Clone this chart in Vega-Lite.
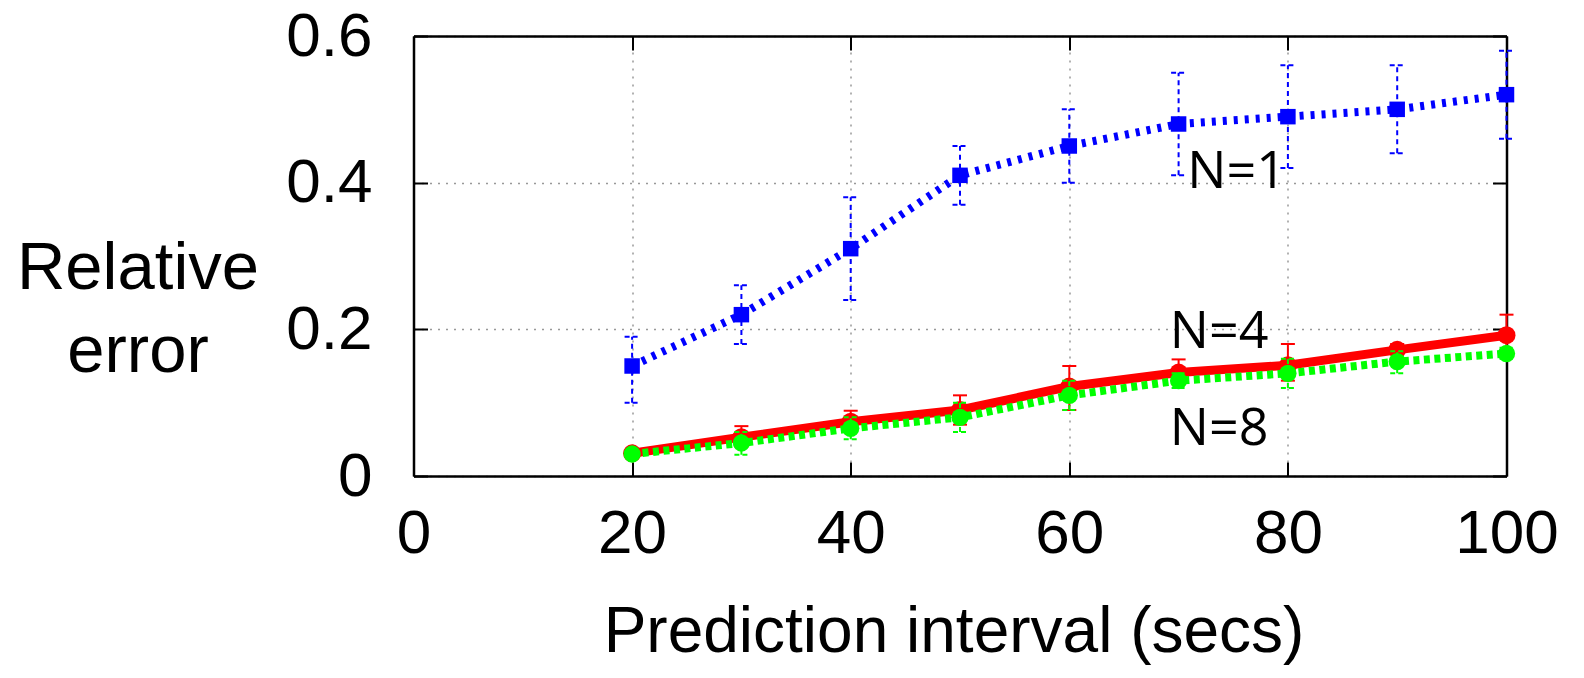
{
  "$schema": "https://vega.github.io/schema/vega-lite/v6.json",
  "width": 1093,
  "height": 440,
  "autosize": {"type": "none"},
  "padding": {"left": 413.5, "top": 36, "right": 77.5, "bottom": 202},
  "background": "white",
  "config": {"view": {"stroke": null}},
  "datasets": {
    "series": [
      {"series": "N=1", "x": 20, "y": 0.15, "lo": 0.10, "hi": 0.19},
      {"series": "N=1", "x": 30, "y": 0.22, "lo": 0.18, "hi": 0.26},
      {"series": "N=1", "x": 40, "y": 0.31, "lo": 0.24, "hi": 0.38},
      {"series": "N=1", "x": 50, "y": 0.41, "lo": 0.37, "hi": 0.45},
      {"series": "N=1", "x": 60, "y": 0.45, "lo": 0.40, "hi": 0.50},
      {"series": "N=1", "x": 70, "y": 0.48, "lo": 0.41, "hi": 0.55},
      {"series": "N=1", "x": 80, "y": 0.49, "lo": 0.42, "hi": 0.56},
      {"series": "N=1", "x": 90, "y": 0.50, "lo": 0.44, "hi": 0.56},
      {"series": "N=1", "x": 100, "y": 0.52, "lo": 0.46, "hi": 0.58},
      {"series": "N=4", "x": 20, "y": 0.031, "lo": 0.025, "hi": 0.037},
      {"series": "N=4", "x": 30, "y": 0.053, "lo": 0.04, "hi": 0.068},
      {"series": "N=4", "x": 40, "y": 0.074, "lo": 0.06, "hi": 0.089},
      {"series": "N=4", "x": 50, "y": 0.09, "lo": 0.07, "hi": 0.11},
      {"series": "N=4", "x": 60, "y": 0.122, "lo": 0.09, "hi": 0.15},
      {"series": "N=4", "x": 70, "y": 0.141, "lo": 0.125, "hi": 0.159},
      {"series": "N=4", "x": 80, "y": 0.151, "lo": 0.13, "hi": 0.18},
      {"series": "N=4", "x": 90, "y": 0.172, "lo": 0.16, "hi": 0.18},
      {"series": "N=4", "x": 100, "y": 0.192, "lo": 0.17, "hi": 0.22},
      {"series": "N=8", "x": 20, "y": 0.03, "lo": 0.025, "hi": 0.035},
      {"series": "N=8", "x": 30, "y": 0.045, "lo": 0.029, "hi": 0.06},
      {"series": "N=8", "x": 40, "y": 0.065, "lo": 0.05, "hi": 0.08},
      {"series": "N=8", "x": 50, "y": 0.08, "lo": 0.06, "hi": 0.10},
      {"series": "N=8", "x": 60, "y": 0.11, "lo": 0.09, "hi": 0.13},
      {"series": "N=8", "x": 70, "y": 0.13, "lo": 0.12, "hi": 0.14},
      {"series": "N=8", "x": 80, "y": 0.14, "lo": 0.12, "hi": 0.16},
      {"series": "N=8", "x": 90, "y": 0.156, "lo": 0.14, "hi": 0.17},
      {"series": "N=8", "x": 100, "y": 0.167, "lo": 0.16, "hi": 0.175}
    ],
    "notes": [
      {"label": "N=1", "x": 70.8, "y": 0.393},
      {"label": "N=4", "x": 69.2, "y": 0.174},
      {"label": "N=8", "x": 69.2, "y": 0.0423}
    ]
  },
  "data": {"name": "series"},
  "layer": [
    {
      "transform": [{"filter": "datum.series === 'N=1'"}],
      "mark": {"type": "rule", "color": "#0000ff", "strokeWidth": 2, "strokeDash": [5, 4]},
      "encoding": {
        "x": {"field": "x", "type": "quantitative", "scale": {"domain": [0, 100], "nice": false},
          "axis": {"orient": "bottom", "values": [0, 20, 40, 60, 80, 100], "grid": true, "gridDash": [2, 6], "gridColor": "#999999", "gridWidth": 1.5,
            "tickSize": -14, "tickWidth": 2, "tickColor": "black", "domainColor": "black", "domainWidth": 2.5,
            "labelFont": "Liberation Sans", "labelFontSize": 62, "labelColor": "black", "labelPadding": 41.4, "labelDx": 10,
            "labelFlush": false, "labelOverlap": false, "labelBound": false,
            "title": "Prediction interval (secs)", "titleFont": "Liberation Sans", "titleFontSize": 64, "titleFontWeight": "normal", "titleColor": "black", "titlePadding": 36, "titleX": 540, "titleAlign": "center"}},
        "y": {"field": "lo", "type": "quantitative", "scale": {"domain": [0, 0.6], "nice": false},
          "axis": {"orient": "left", "values": [0, 0.2, 0.4, 0.6], "format": "~g", "grid": true, "gridDash": [2, 6], "gridColor": "#999999", "gridWidth": 1.5,
            "tickSize": -14, "tickWidth": 2, "tickColor": "black", "domainColor": "black", "domainWidth": 2.5,
            "labelFont": "Liberation Sans", "labelFontSize": 62, "labelColor": "black", "labelPadding": 55.5, "labelDy": 3,
            "labelFlush": false, "labelOverlap": false, "labelBound": false,
            "title": ["Relative", "error"], "titleFont": "Liberation Sans", "titleFontSize": 67, "titleFontWeight": "normal", "titleColor": "black",
            "titleAngle": 0, "titleAlign": "center", "titleBaseline": "middle", "titleLineHeight": 83, "titleX": -276, "titleY": 232}},
        "y2": {"field": "hi"}
      }
    },
    {
      "transform": [{"filter": "datum.series === 'N=1'"}, {"fold": ["lo", "hi"], "as": ["k", "v"]}],
      "mark": {"type": "point", "shape": "M-1,0L1,0", "size": 225, "filled": false, "stroke": "#0000ff", "strokeWidth": 2, "strokeDash": [5, 3], "opacity": 1},
      "encoding": {
        "x": {"field": "x", "type": "quantitative",
          "axis": {"orient": "top", "values": [0, 20, 40, 60, 80, 100], "labels": false, "grid": false, "title": null,
            "tickSize": -14, "tickWidth": 2, "tickColor": "black", "domainColor": "black", "domainWidth": 2.5}},
        "y": {"field": "v", "type": "quantitative",
          "axis": {"orient": "right", "values": [0, 0.2, 0.4, 0.6], "labels": false, "grid": false, "title": null,
            "tickSize": -14, "tickWidth": 2, "tickColor": "black", "domainColor": "black", "domainWidth": 2.5}}
      }
    },
    {
      "transform": [{"filter": "datum.series === 'N=1'"}],
      "mark": {"type": "line", "color": "#0000ff", "strokeWidth": 8, "strokeDash": [4, 7], "strokeCap": "butt"},
      "encoding": {
        "x": {"field": "x", "type": "quantitative", "axis": null},
        "y": {"field": "y", "type": "quantitative", "axis": null}
      }
    },
    {
      "transform": [{"filter": "datum.series === 'N=1'"}],
      "mark": {"type": "point", "shape": "square", "filled": true, "size": 240, "color": "#0000ff", "opacity": 1},
      "encoding": {
        "x": {"field": "x", "type": "quantitative", "axis": null},
        "y": {"field": "y", "type": "quantitative", "axis": null}
      }
    },
    {
      "transform": [{"filter": "datum.series === 'N=4'"}],
      "mark": {"type": "rule", "color": "#ff0000", "strokeWidth": 2},
      "encoding": {
        "x": {"field": "x", "type": "quantitative", "axis": null},
        "y": {"field": "lo", "type": "quantitative", "axis": null},
        "y2": {"field": "hi"}
      }
    },
    {
      "transform": [{"filter": "datum.series === 'N=4'"}, {"fold": ["lo", "hi"], "as": ["k", "v"]}],
      "mark": {"type": "point", "shape": "M-1,0L1,0", "size": 196, "filled": false, "stroke": "#ff0000", "strokeWidth": 2, "opacity": 1},
      "encoding": {
        "x": {"field": "x", "type": "quantitative", "axis": null},
        "y": {"field": "v", "type": "quantitative", "axis": null}
      }
    },
    {
      "transform": [{"filter": "datum.series === 'N=4'"}],
      "mark": {"type": "line", "color": "#ff0000", "strokeWidth": 9},
      "encoding": {
        "x": {"field": "x", "type": "quantitative", "axis": null},
        "y": {"field": "y", "type": "quantitative", "axis": null}
      }
    },
    {
      "transform": [{"filter": "datum.series === 'N=4'"}],
      "mark": {"type": "point", "shape": "circle", "filled": true, "size": 324, "color": "#ff0000", "opacity": 1},
      "encoding": {
        "x": {"field": "x", "type": "quantitative", "axis": null},
        "y": {"field": "y", "type": "quantitative", "axis": null}
      }
    },
    {
      "transform": [{"filter": "datum.series === 'N=8'"}],
      "mark": {"type": "rule", "color": "#00ff00", "strokeWidth": 2, "strokeDash": [5, 3]},
      "encoding": {
        "x": {"field": "x", "type": "quantitative", "axis": null},
        "y": {"field": "lo", "type": "quantitative", "axis": null},
        "y2": {"field": "hi"}
      }
    },
    {
      "transform": [{"filter": "datum.series === 'N=8'"}, {"fold": ["lo", "hi"], "as": ["k", "v"]}],
      "mark": {"type": "point", "shape": "M-1,0L1,0", "size": 196, "filled": false, "stroke": "#00ff00", "strokeWidth": 2, "strokeDash": [5, 3], "opacity": 1},
      "encoding": {
        "x": {"field": "x", "type": "quantitative", "axis": null},
        "y": {"field": "v", "type": "quantitative", "axis": null}
      }
    },
    {
      "transform": [{"filter": "datum.series === 'N=8'"}],
      "mark": {"type": "line", "color": "#00ff00", "strokeWidth": 8, "strokeDash": [6, 4.5], "strokeCap": "butt"},
      "encoding": {
        "x": {"field": "x", "type": "quantitative", "axis": null},
        "y": {"field": "y", "type": "quantitative", "axis": null}
      }
    },
    {
      "transform": [{"filter": "datum.series === 'N=8'"}],
      "mark": {"type": "point", "shape": "circle", "filled": true, "size": 300, "color": "#00ff00", "opacity": 1},
      "encoding": {
        "x": {"field": "x", "type": "quantitative", "axis": null},
        "y": {"field": "y", "type": "quantitative", "axis": null}
      }
    },
    {
      "data": {"name": "notes"},
      "mark": {"type": "text", "font": "Open Sans", "fontSize": 52, "color": "black", "align": "left", "baseline": "alphabetic"},
      "encoding": {
        "x": {"field": "x", "type": "quantitative", "axis": null},
        "y": {"field": "y", "type": "quantitative", "axis": null},
        "text": {"field": "label"}
      }
    }
  ],
  "resolve": {"axis": {"x": "independent", "y": "independent"}}
}
